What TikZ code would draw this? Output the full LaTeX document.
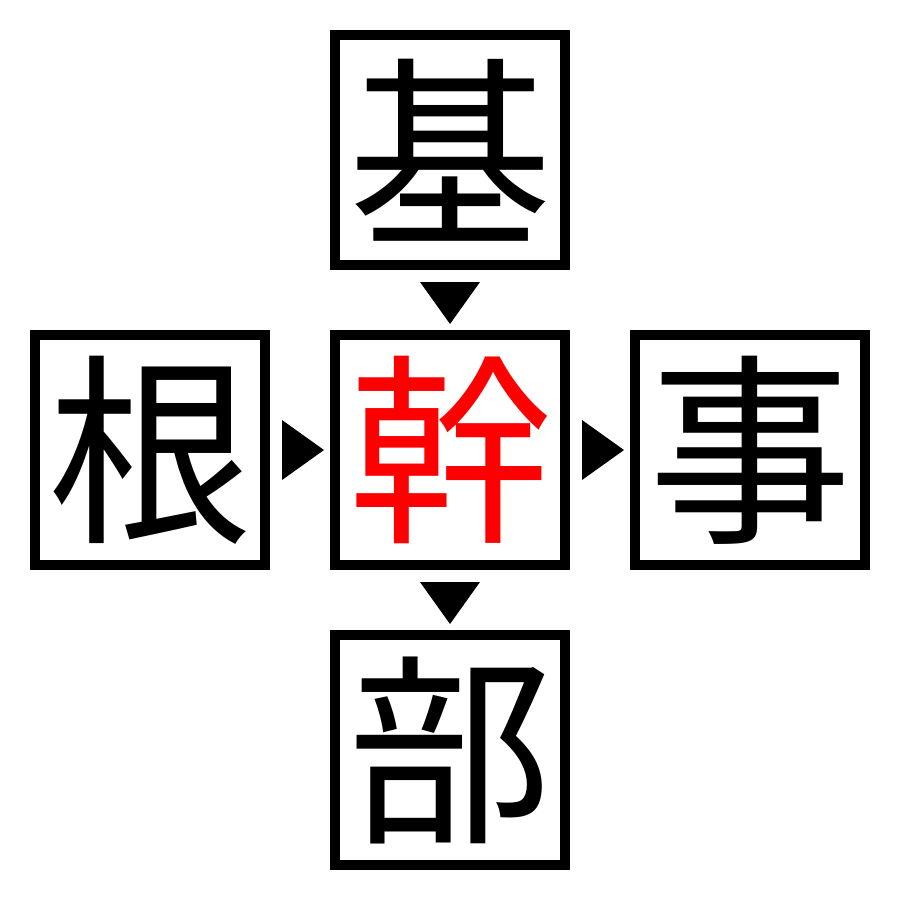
\documentclass[tikz,border=0pt]{standalone}
\usepackage{fontspec}
\newfontfamily\cjk{Noto Sans CJK JP}
\begin{document}
\begin{tikzpicture}[x=1pt,y=-1pt,
  kbox/.style={draw=black,line width=10pt,minimum size=230pt,inner sep=0pt,
    font=\cjk\fontsize{204}{208}\selectfont},
  tri/.style={fill=black,draw=none}]
\useasboundingbox (0,0) rectangle (900,900);
\fill[white] (0,0) rectangle (900,900);
\node[kbox] (top) at (450,150) {基};
\node[kbox] (left) at (150,450) {根};
\node[kbox,text=red] (mid) at (450,450) {幹};
\node[kbox] (right) at (750,450) {事};
\node[kbox] (bot) at (450,750) {部};
\path (top.south) -- (mid.north) coordinate[pos=0.5] (tm);
\path (mid.south) -- (bot.north) coordinate[pos=0.5] (mb);
\path (left.east) -- (mid.west) coordinate[pos=0.5] (lm);
\path (mid.east) -- (right.west) coordinate[pos=0.5] (mr);
\fill[tri] ([shift={(-30,-18)}]tm) -- ([shift={(30,-18)}]tm) -- ([shift={(0,24)}]tm) -- cycle;
\fill[tri] ([shift={(-30,-18)}]mb) -- ([shift={(30,-18)}]mb) -- ([shift={(0,24)}]mb) -- cycle;
\fill[tri] ([shift={(-18,-30)}]lm) -- ([shift={(-18,30)}]lm) -- ([shift={(24,0)}]lm) -- cycle;
\fill[tri] ([shift={(-18,-30)}]mr) -- ([shift={(-18,30)}]mr) -- ([shift={(24,0)}]mr) -- cycle;
\end{tikzpicture}
\end{document}
